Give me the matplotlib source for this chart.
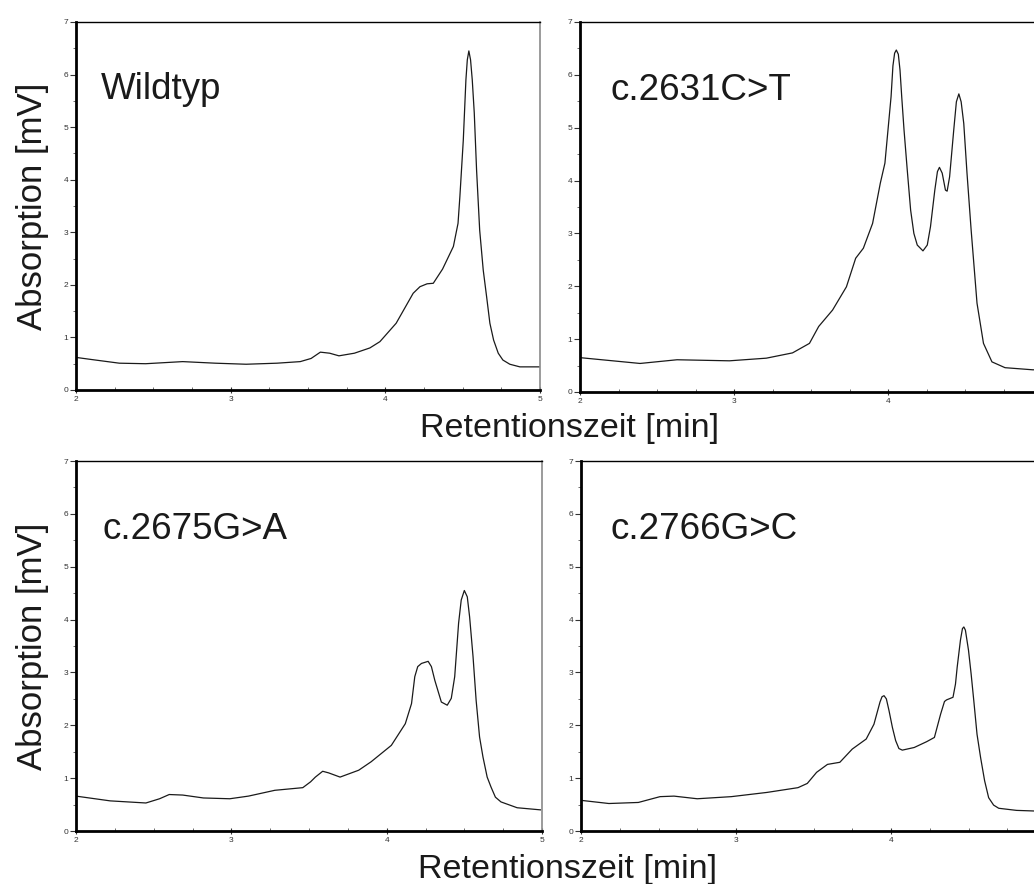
import matplotlib
matplotlib.use("Agg")
import matplotlib.pyplot as plt
from matplotlib.ticker import MultipleLocator, FuncFormatter

plt.rcParams['font.family'] = ['Liberation Sans', 'DejaVu Sans']

# ---- data ----
labels = ["Wildtyp", "c.2631C>T", "c.2675G>A", "c.2766G>C"]

wt_t = [2.00, 2.10, 2.28, 2.45, 2.69, 2.90, 3.10, 3.30, 3.45, 3.52, 3.58, 3.64, 3.70, 3.80,
        3.90, 3.965, 4.07, 4.18, 4.224, 4.27, 4.31, 4.37, 4.44, 4.47, 4.482, 4.504, 4.521,
        4.530, 4.540, 4.551, 4.562, 4.575, 4.590, 4.61, 4.633, 4.655, 4.676, 4.70, 4.73,
        4.76, 4.805, 4.87, 5.00]
wt_a = [0.62, 0.58, 0.51, 0.50, 0.54, 0.51, 0.49, 0.51, 0.54, 0.60, 0.72, 0.70, 0.65, 0.70,
        0.80, 0.92, 1.27, 1.84, 1.965, 2.02, 2.03, 2.30, 2.73, 3.17, 3.68, 4.75, 5.90,
        6.28, 6.45, 6.28, 5.90, 5.27, 4.18, 3.04, 2.28, 1.77, 1.27, 0.95, 0.70,
        0.57, 0.49, 0.44, 0.44]

m1_t = [2.00, 2.39, 2.63, 2.97, 3.21, 3.38, 3.49, 3.55, 3.64, 3.73, 3.79, 3.84, 3.90, 3.95,
        3.98, 4.02, 4.032, 4.043, 4.054, 4.067, 4.078, 4.089, 4.104, 4.125, 4.147, 4.168,
        4.19, 4.227, 4.255, 4.276, 4.304, 4.321, 4.334, 4.352, 4.373, 4.384, 4.40, 4.427,
        4.444, 4.46, 4.475, 4.492, 4.513, 4.54, 4.578, 4.62, 4.675, 4.76, 4.94, 5.00]
m1_a = [0.65, 0.54, 0.61, 0.59, 0.64, 0.74, 0.92, 1.24, 1.55, 1.99, 2.53, 2.72, 3.19, 3.95,
        4.33, 5.59, 6.17, 6.41, 6.47, 6.39, 6.09, 5.59, 4.96, 4.20, 3.44, 3.00,
        2.78, 2.67, 2.78, 3.13, 3.82, 4.17, 4.25, 4.14, 3.82, 3.80, 4.07, 4.96,
        5.49, 5.64, 5.49, 5.08, 4.14, 3.06, 1.68, 0.92, 0.57, 0.46, 0.42, 0.42]

m2_t = [2.00, 2.22, 2.45, 2.538, 2.60, 2.687, 2.82, 2.99, 3.11, 3.28, 3.46, 3.51, 3.541,
        3.588, 3.626, 3.70, 3.82, 3.90, 4.03, 4.12, 4.16, 4.181, 4.20, 4.224, 4.267, 4.288,
        4.31, 4.352, 4.39, 4.416, 4.438, 4.463, 4.48, 4.50, 4.519, 4.534, 4.556, 4.576,
        4.598, 4.62, 4.647, 4.672, 4.70, 4.736, 4.84, 4.99]
m2_a = [0.66, 0.57, 0.53, 0.61, 0.69, 0.68, 0.625, 0.61, 0.66, 0.77, 0.82, 0.93, 1.02,
        1.13, 1.10, 1.02, 1.15, 1.31, 1.62, 2.03, 2.41, 2.92, 3.11, 3.17, 3.21, 3.11,
        2.85, 2.44, 2.38, 2.51, 2.92, 3.93, 4.37, 4.55, 4.43, 4.05, 3.30, 2.47,
        1.78, 1.40, 1.02, 0.83, 0.64, 0.55, 0.44, 0.40]

m3_t = [2.00, 2.18, 2.37, 2.51, 2.60, 2.75, 2.97, 3.20, 3.40, 3.46, 3.52, 3.59, 3.67, 3.75,
        3.84, 3.89, 3.929, 3.942, 3.955, 3.97, 3.987, 4.009, 4.03, 4.051, 4.073, 4.15, 4.23,
        4.28, 4.32, 4.345, 4.358, 4.40, 4.416, 4.427, 4.448, 4.461, 4.47, 4.48, 4.50,
        4.517, 4.534, 4.555, 4.578, 4.604, 4.63, 4.662, 4.695, 4.81, 4.91, 5.00]
m3_a = [0.58, 0.52, 0.54, 0.65, 0.66, 0.61, 0.65, 0.73, 0.82, 0.90, 1.11, 1.26, 1.30, 1.55,
        1.74, 2.02, 2.44, 2.54, 2.56, 2.50, 2.28, 1.96, 1.71, 1.56, 1.53, 1.58, 1.69,
        1.77, 2.21, 2.45, 2.48, 2.53, 2.78, 3.10, 3.61, 3.83, 3.86, 3.80, 3.42,
        2.97, 2.47, 1.83, 1.39, 0.95, 0.63, 0.49, 0.43, 0.39, 0.38, 0.37]

series = [(wt_t, wt_a), (m1_t, m1_a), (m2_t, m2_a), (m3_t, m3_a)]

x_label = "Retentionszeit [min]"
y_label = "Absorption [mV]"

W, H = 1034, 884
fig = plt.figure(figsize=(W / 100, H / 100), dpi=100)

# axes rectangles in pixels: left, top, width, height
rects_px = [(76, 22, 464, 368), (580, 22, 462, 370), (76, 461, 466, 370), (581, 461, 465, 370)]
label_pos = [(0.054, 0.79), (0.065, 0.79), (0.056, 0.789), (0.063, 0.789)]
right_side = [False, True, False, True]


def hide_five(v, pos):
    return "" if abs(v - 5) < 1e-6 else "%d" % round(v)


def plain(v, pos):
    return "%d" % round(v)


for (l, t, w, h), (xs, ys), lab, lp, rs in zip(rects_px, series, labels, label_pos, right_side):
    ax = fig.add_axes([l / W, 1 - (t + h) / H, w / W, h / H])
    ax.plot(xs, ys, color='#1a1a1a', lw=0.9)
    ax.set_xlim(2, 5)
    ax.set_ylim(0, 7)
    ax.xaxis.set_major_locator(MultipleLocator(1))
    ax.xaxis.set_minor_locator(MultipleLocator(0.25))
    ax.yaxis.set_major_locator(MultipleLocator(1))
    ax.yaxis.set_minor_locator(MultipleLocator(0.5))
    ax.xaxis.set_major_formatter(FuncFormatter(hide_five if rs else plain))
    ax.tick_params(axis='y', which='major', direction='out', length=4, width=0.8,
                   labelsize=6, labelcolor='#333333', pad=1.5, color='#333333')
    ax.tick_params(axis='y', which='minor', direction='out', length=2.5, width=0.6, color='#555555')
    ax.tick_params(axis='x', which='major', direction='inout', length=5, width=0.8,
                   labelsize=6, labelcolor='#333333', pad=2, color='#333333')
    ax.tick_params(axis='x', which='minor', direction='in', length=2.5, width=0.6, color='#555555')
    for s in ('left', 'bottom'):
        ax.spines[s].set_linewidth(2.0)
        ax.spines[s].set_color('black')
    ax.spines['top'].set_linewidth(1.0)
    ax.spines['top'].set_color('black')
    ax.spines['right'].set_linewidth(1.2)
    ax.spines['right'].set_color('#8a8a8a')
    ax.text(lp[0], lp[1], lab, transform=ax.transAxes, fontsize=26.5,
            va='baseline', ha='left', color='#1a1a1a')

# shared axis labels
for yc in (206, 646):
    fig.text(33 / W, 1 - yc / H, y_label, rotation=90, ha='center', va='center',
             fontsize=25, color='#1a1a1a')
fig.text(569 / W, 1 - 437 / H, x_label, ha='center', va='baseline', fontsize=24.5, color='#1a1a1a')
fig.text(568 / W, 1 - 878 / H, x_label, ha='center', va='baseline', fontsize=24.5, color='#1a1a1a')

fig.savefig("out.png", dpi=100)
